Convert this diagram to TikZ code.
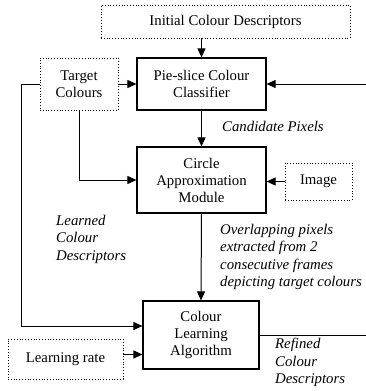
\documentclass[tikz,border=0pt]{standalone}
\usepackage{fontspec}
\setmainfont{Liberation Serif}
\usetikzlibrary{arrows.meta,calc}
\begin{document}
\begin{tikzpicture}[x=1pt,y=-1pt,
  every node/.style={font=\fontsize{14.8}{17}\selectfont},
  blk/.style={draw, line width=1.2pt, align=center, inner sep=0pt},
  dbox/.style={draw, dotted, line width=0.8pt, align=center, inner sep=0pt},
  arr/.style={-{Triangle[length=9pt,width=8pt]}, line width=1pt},
  ln/.style={line width=1pt},
  lbl/.style={font=\fontsize{14.8}{17.5}\selectfont\itshape, align=left, anchor=north west, inner sep=0pt}]
\useasboundingbox (0,0) rectangle (366,391);
\node[dbox, minimum width=249, minimum height=33] (init) at (225.5,21.5) {Initial Colour Descriptors};
\node[blk, minimum width=129, minimum height=52] (pie) at (201.5,84) {Pie-slice Colour\\Classifier};
\node[dbox, minimum width=78, minimum height=52] (target) at (79,84) {Target\\Colours};
\node[blk, minimum width=129, minimum height=66] (circ) at (201.5,180) {Circle\\Approximation\\Module};
\node[dbox, minimum width=67, minimum height=37] (img) at (318.5,181.5) {Image};
\node[blk, minimum width=116, minimum height=68] (cl) at (201,335) {Colour\\Learning\\Algorithm};
\node[dbox, minimum width=115, minimum height=40] (lr) at (65.5,359) {Learning rate};
\coordinate (rin) at (366,84);
\coordinate (rout) at (366,335);

\node[lbl] (cand) at (222,121) {Candidate Pixels};
\node[lbl] (learned) at (56,215) {Learned\\Colour\\Descriptors};
\node[lbl] (overl) at (220,224) {Overlapping pixels\\extracted from 2\\consecutive frames\\depicting target colours};
\node[lbl] (refined) at (275,338) {Refined\\Colour\\Descriptors};

\draw[arr] (pie.north |- init.south) -- (pie.north);
\draw[arr] (target.east) -- (pie.west);
\draw[arr] (rin) -- (pie.east);
\draw[arr] (target.west) -- (21,84) |- ($(cl.west)+(0,-9)$);
\draw[arr] (target.south) |- (circ.west);
\draw[arr] (pie.south) -- (circ.north);
\draw[arr] (img.west) -- (img.west -| circ.east);
\draw[arr] (circ.south) -- (cl.north);
\draw[ln] (cl.east) -- (rout);
\draw[arr] ($(lr.east)+(0,-4.5)$) -- ($(lr.east -| cl.west)+(0,-4.5)$);
\end{tikzpicture}
\end{document}
